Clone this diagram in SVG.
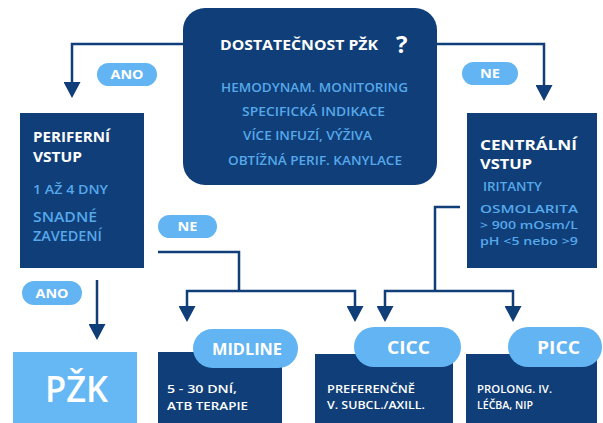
<svg xmlns="http://www.w3.org/2000/svg" width="603" height="423" viewBox="0 0 603 423">
<defs>
<marker id="ah" viewBox="0 0 16 17" refX="12" refY="8.5" markerWidth="16" markerHeight="17" markerUnits="userSpaceOnUse" orient="auto">
<path d="M0,0 L16,8.5 L0,17 z" fill="#0f3e78"/>
</marker>
<style>
.box{fill:#0f3e78}
.pill{fill:#62b4f2}
.w{fill:#ffffff;font-family:"Open Sans",Lato,sans-serif;font-weight:700}
.lb{fill:#56a8ea;font-family:"Open Sans",Lato,sans-serif;font-weight:600}
.t{fill:#ffffff;font-family:"Open Sans",Lato,sans-serif;font-weight:600;font-size:11.5px}
.c{fill:none;stroke:#0f3e78;stroke-width:2.5}
.ca{fill:none;stroke:#0f3e78;stroke-width:2.5;marker-end:url(#ah)}
.pt{fill:#ffffff;font-family:"Open Sans",Lato,sans-serif;font-weight:700;font-size:12.5px;text-anchor:middle}
</style>
</defs>
<rect width="603" height="423" fill="#ffffff"/>

<g id="connectors">
<path class="ca" d="M183,44 H72 V94"/>
<path class="ca" d="M437,44 H544 V97"/>
<path class="ca" d="M97,280 V336"/>
<path class="c" d="M158,252 H239 V291"/>
<path class="ca" d="M239,291 H187 V318"/>
<path class="ca" d="M239,291 H355 V318"/>
<path class="c" d="M460,207 H435 V291"/>
<path class="ca" d="M435,291 H385 V318"/>
<path class="ca" d="M435,291 H513 V318"/>
</g>

<g id="labels">
<g id="ano-top"><rect class="pill" x="97" y="63" width="60" height="23" rx="11.5"/><text class="pt" x="127" y="79" textLength="33" lengthAdjust="spacingAndGlyphs">ANO</text></g>
<g id="ne-top"><rect class="pill" x="462" y="62" width="56" height="23" rx="11.5"/><text class="pt" x="490" y="78" textLength="20" lengthAdjust="spacingAndGlyphs">NE</text></g>
<g id="ne-left"><rect class="pill" x="158" y="215" width="59" height="23" rx="11.5"/><text class="pt" x="187.5" y="231" textLength="20" lengthAdjust="spacingAndGlyphs">NE</text></g>
<g id="ano-bottom"><rect class="pill" x="22" y="281" width="60" height="24" rx="12"/><text class="pt" x="52" y="297.5" textLength="33" lengthAdjust="spacingAndGlyphs">ANO</text></g>
</g>

<g id="question">
<rect class="box" x="183" y="8" width="254" height="177" rx="22"/>
<text class="w" x="220" y="50" font-size="14" textLength="158" lengthAdjust="spacingAndGlyphs">DOSTATEČNOST PŽK</text>
<text class="w" x="396" y="53" font-size="24">?</text>
<text class="lb" x="221" y="92" font-size="13" textLength="187" lengthAdjust="spacingAndGlyphs">HEMODYNAM. MONITORING</text>
<text class="lb" x="242" y="116" font-size="13" textLength="143" lengthAdjust="spacingAndGlyphs">SPECIFICKÁ INDIKACE</text>
<text class="lb" x="243" y="140" font-size="13" textLength="129" lengthAdjust="spacingAndGlyphs">VÍCE INFUZÍ, VÝŽIVA</text>
<text class="lb" x="228" y="165" font-size="13" textLength="174" lengthAdjust="spacingAndGlyphs">OBTÍŽNÁ PERIF. KANYLACE</text>
</g>

<g id="periferni">
<rect class="box" x="20" y="113" width="124" height="155"/>
<text class="w" x="33" y="142" font-size="14.5" textLength="77" lengthAdjust="spacingAndGlyphs">PERIFERNÍ</text>
<text class="w" x="33" y="162" font-size="14.5" textLength="49" lengthAdjust="spacingAndGlyphs">VSTUP</text>
<text class="lb" x="33" y="194" font-size="12.5" textLength="75" lengthAdjust="spacingAndGlyphs">1 AŽ 4 DNY</text>
<text class="lb" x="33" y="222" font-size="13.5" textLength="64" lengthAdjust="spacingAndGlyphs">SNADNÉ</text>
<text class="lb" x="33" y="241" font-size="13.5" textLength="69" lengthAdjust="spacingAndGlyphs">ZAVEDENÍ</text>
</g>

<g id="centralni">
<rect class="box" x="467" y="113" width="130" height="155"/>
<text class="w" x="480" y="150" font-size="15" textLength="97" lengthAdjust="spacingAndGlyphs">CENTRÁLNÍ</text>
<text class="w" x="480" y="169" font-size="15" textLength="52" lengthAdjust="spacingAndGlyphs">VSTUP</text>
<text class="lb" x="483" y="191" font-size="12.5" textLength="59" lengthAdjust="spacingAndGlyphs">IRITANTY</text>
<text class="lb" x="480" y="213" font-size="11" textLength="98" lengthAdjust="spacingAndGlyphs">OSMOLARITA</text>
<text class="lb" x="480" y="229" font-size="11" textLength="98" lengthAdjust="spacingAndGlyphs">&gt; 900 mOsm/L</text>
<text class="lb" x="480" y="245" font-size="11" textLength="98" lengthAdjust="spacingAndGlyphs">pH &lt;5 nebo &gt;9</text>
</g>

<g id="pzk">
<rect x="13" y="352" width="124" height="71" fill="#66b8f4"/>
<text x="45" y="402" font-family="'Open Sans',Lato,sans-serif" font-weight="600" font-size="36" fill="#ffffff" textLength="63" lengthAdjust="spacingAndGlyphs">PŽK</text>
</g>

<g id="midline">
<rect class="box" x="158" y="352" width="124" height="71"/>
<rect class="pill" x="193" y="329" width="105" height="39" rx="19.5"/>
<text class="w" x="212" y="355" font-size="16" textLength="70" lengthAdjust="spacingAndGlyphs">MIDLINE</text>
<text class="t" x="167" y="393" textLength="70" lengthAdjust="spacingAndGlyphs">5 - 30 DNÍ,</text>
<text class="t" x="167" y="410" textLength="81" lengthAdjust="spacingAndGlyphs">ATB TERAPIE</text>
</g>

<g id="cicc">
<rect class="box" x="315" y="354" width="138" height="69"/>
<rect class="pill" x="354" y="327" width="107" height="40" rx="20"/>
<text class="w" x="387" y="354" font-size="18" textLength="43" lengthAdjust="spacingAndGlyphs">CICC</text>
<text class="t" x="327" y="393" textLength="88" lengthAdjust="spacingAndGlyphs">PREFERENČNĚ</text>
<text class="t" x="327" y="409" textLength="98" lengthAdjust="spacingAndGlyphs">V. SUBCL./AXILL.</text>
</g>

<g id="picc">
<rect class="box" x="466" y="354" width="131" height="69"/>
<rect class="pill" x="508" y="327" width="94" height="40" rx="20"/>
<text class="w" x="537" y="354" font-size="18" textLength="43" lengthAdjust="spacingAndGlyphs">PICC</text>
<text class="t" x="477" y="393" textLength="75" lengthAdjust="spacingAndGlyphs">PROLONG. IV.</text>
<text class="t" x="477" y="409" textLength="56" lengthAdjust="spacingAndGlyphs">LÉČBA, NIP</text>
</g>
</svg>
